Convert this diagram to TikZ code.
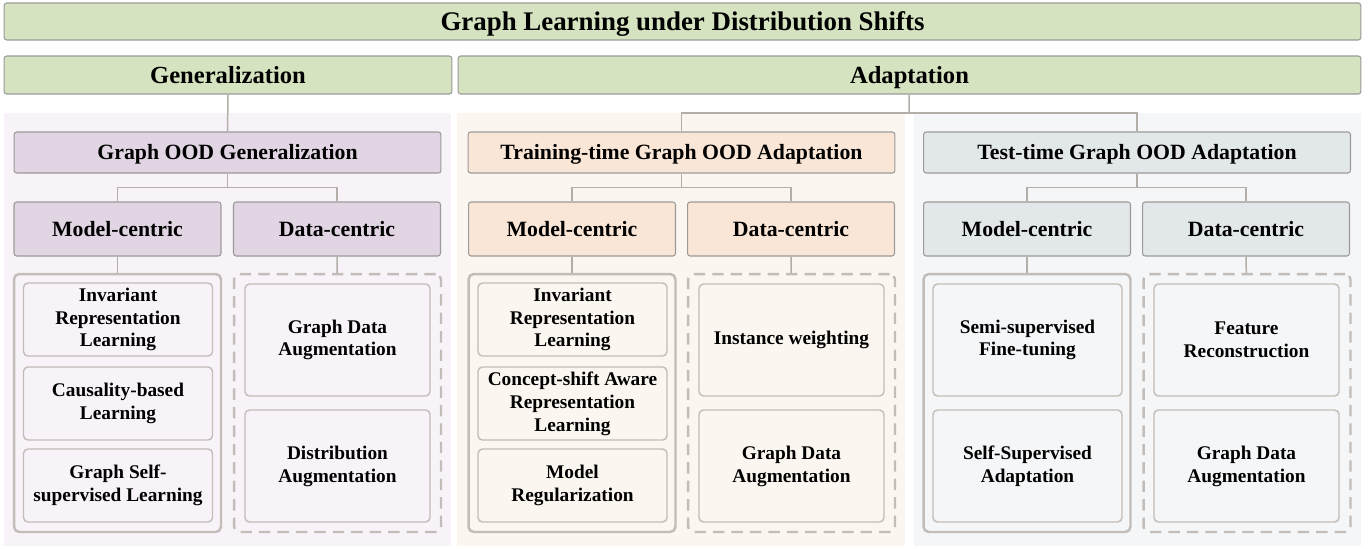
\documentclass[tikz,border=0pt]{standalone}
\usepackage{fontspec}
\setmainfont{Liberation Serif}
\usetikzlibrary{positioning}

\definecolor{topgreen}{HTML}{D5E3C0}
\definecolor{boxgray}{HTML}{9C9A98}
\definecolor{linegray}{HTML}{B3AEA8}
\definecolor{groupgray}{HTML}{C2BDB8}
\definecolor{genbg}{HTML}{F7F3F9}
\definecolor{genbox}{HTML}{E1D5E3}
\definecolor{trainbg}{HTML}{FCF6F0}
\definecolor{trainbox}{HTML}{FAE6D6}
\definecolor{testbg}{HTML}{F4F6F8}
\definecolor{testbox}{HTML}{E2E7EA}

\begin{document}
\begin{tikzpicture}
	[
	x=0.02cm, y=-0.02cm,
	line/.style = {draw=linegray, line width=0.85pt},
	box/.style = {draw=boxgray, line width=0.6pt, rounded corners=1.5pt, align=center, inner sep=0pt, text depth=0pt},
	topbox/.style = {box, fill=topgreen, minimum height=0.74cm, text height=10.1pt, font=\bfseries\fontsize{15.3}{18}\selectfont},
	catbox/.style = {box, fill=topgreen, minimum height=0.76cm, text height=9.3pt, font=\bfseries\fontsize{14}{17}\selectfont},
	subbox/.style = {box, minimum width=8.54cm, minimum height=0.82cm, text height=8.2pt, font=\bfseries\fontsize{12.4}{15}\selectfont},
	kindbox/.style = {box, minimum width=4.14cm, minimum height=1.08cm, text height=8.2pt, font=\bfseries\fontsize{12.4}{15}\selectfont},
	group/.style = {draw=groupgray, line width=1.4pt, rounded corners=3pt, minimum width=4.14cm, minimum height=5.16cm, inner sep=0pt},
	dgroup/.style = {group, dash pattern=on 6.5pt off 4pt},
	leaf/.style = {draw=groupgray, line width=0.8pt, rounded corners=2.5pt, align=center, inner sep=0pt, minimum width=3.78cm, font=\bfseries\fontsize{11}{13}\selectfont},
	dleaf/.style = {leaf, minimum width=3.7cm},
	short/.style = {minimum height=1.46cm},
	tall/.style = {minimum height=2.24cm}
	]
	\useasboundingbox (0,0) rectangle (1372,548);

	% panels
	\fill[genbg] (4,113) rectangle (451,546);
	\fill[trainbg] (457,113) rectangle (905,546);
	\fill[testbg] (914,113) rectangle (1361,546);

	\node[topbox, minimum width=27.14cm] (root) at (682.5,21.5) {Graph Learning under Distribution Shifts};
	\node[catbox, minimum width=8.96cm] (gen) at (228,75) {Generalization};
	\node[catbox, minimum width=18.06cm] (adapt) at (909.5,75) {Adaptation};

	\node[subbox, fill=genbox] (good) at (227.5,152.5) {Graph OOD Generalization};
	\node[subbox, fill=trainbox] (train) at (681.5,152.5) {Training-time Graph OOD Adaptation};
	\node[subbox, fill=testbox] (test) at (1137,152.5) {Test-time Graph OOD Adaptation};

	\node[kindbox, fill=genbox] (gmod) at (117.5,229) {Model-centric};
	\node[kindbox, fill=genbox] (gdat) at (337,229) {Data-centric};
	\node[kindbox, fill=trainbox] (tmod) at (572,229) {Model-centric};
	\node[kindbox, fill=trainbox] (tdat) at (791,229) {Data-centric};
	\node[kindbox, fill=testbox] (smod) at (1027,229) {Model-centric};
	\node[kindbox, fill=testbox] (sdat) at (1246,229) {Data-centric};

	\node[group] (gmodg) at (117.5,403) {};
	\node[dgroup] (gdatg) at (337.5,403) {};
	\node[group] (tmodg) at (572,403) {};
	\node[dgroup] (tdatg) at (791.5,403) {};
	\node[group] (smodg) at (1027,403) {};
	\node[dgroup] (sdatg) at (1247,403) {};

	% generalization leaves
	\node[leaf, short] (g1) at (118,319.5) {Invariant\\Representation\\Learning};
	\node[leaf, short] (g2) at (118,403.5) {Causality-based\\Learning};
	\node[leaf, short] (g3) at (118,485.5) {Graph Self-\\supervised Learning};
	\node[dleaf, tall] (g4) at (337.5,340) {Graph Data\\Augmentation};
	\node[dleaf, tall] (g5) at (337.5,466) {Distribution\\Augmentation};

	% training-time leaves
	\node[leaf, short] (t1) at (572.5,319.5) {Invariant\\Representation\\Learning};
	\node[leaf, short] (t2) at (572.5,403.5) {Concept-shift Aware\\Representation\\Learning};
	\node[leaf, short] (t3) at (572.5,485.5) {Model\\Regularization};
	\node[dleaf, tall] (t4) at (791.5,340) {Instance weighting};
	\node[dleaf, tall] (t5) at (791.5,466) {Graph Data\\Augmentation};

	% test-time leaves
	\node[leaf, tall] (s1) at (1027.5,340) {Semi-supervised\\Fine-tuning};
	\node[leaf, tall] (s2) at (1027.5,466) {Self-Supervised\\Adaptation};
	\node[dleaf, tall] (s3) at (1246.5,340) {Feature\\Reconstruction};
	\node[dleaf, tall] (s4) at (1246.5,466) {Graph Data\\Augmentation};

	% connectors
	\draw[line] (gen) -- (good);
	\coordinate (abus) at (909,113);
	\draw[line] (adapt) -- (abus);
	\draw[line] (train) |- (abus) -| (test);

	\draw[line] (good.south) -- ++(0,14) coordinate (gbus);
	\draw[line] (gmod) |- (gbus) -| (gdat);
	\draw[line] (train.south) -- ++(0,14) coordinate (tbus);
	\draw[line] (tmod) |- (tbus) -| (tdat);
	\draw[line] (test.south) -- ++(0,14) coordinate (sbus);
	\draw[line] (smod) |- (sbus) -| (sdat);

	\draw[line] (gmod) -- (gmodg);
	\draw[line] (gdat) -- (gdatg);
	\draw[line] (tmod) -- (tmodg);
	\draw[line] (tdat) -- (tdatg);
	\draw[line] (smod) -- (smodg);
	\draw[line] (sdat) -- (sdatg);
\end{tikzpicture}
\end{document}
